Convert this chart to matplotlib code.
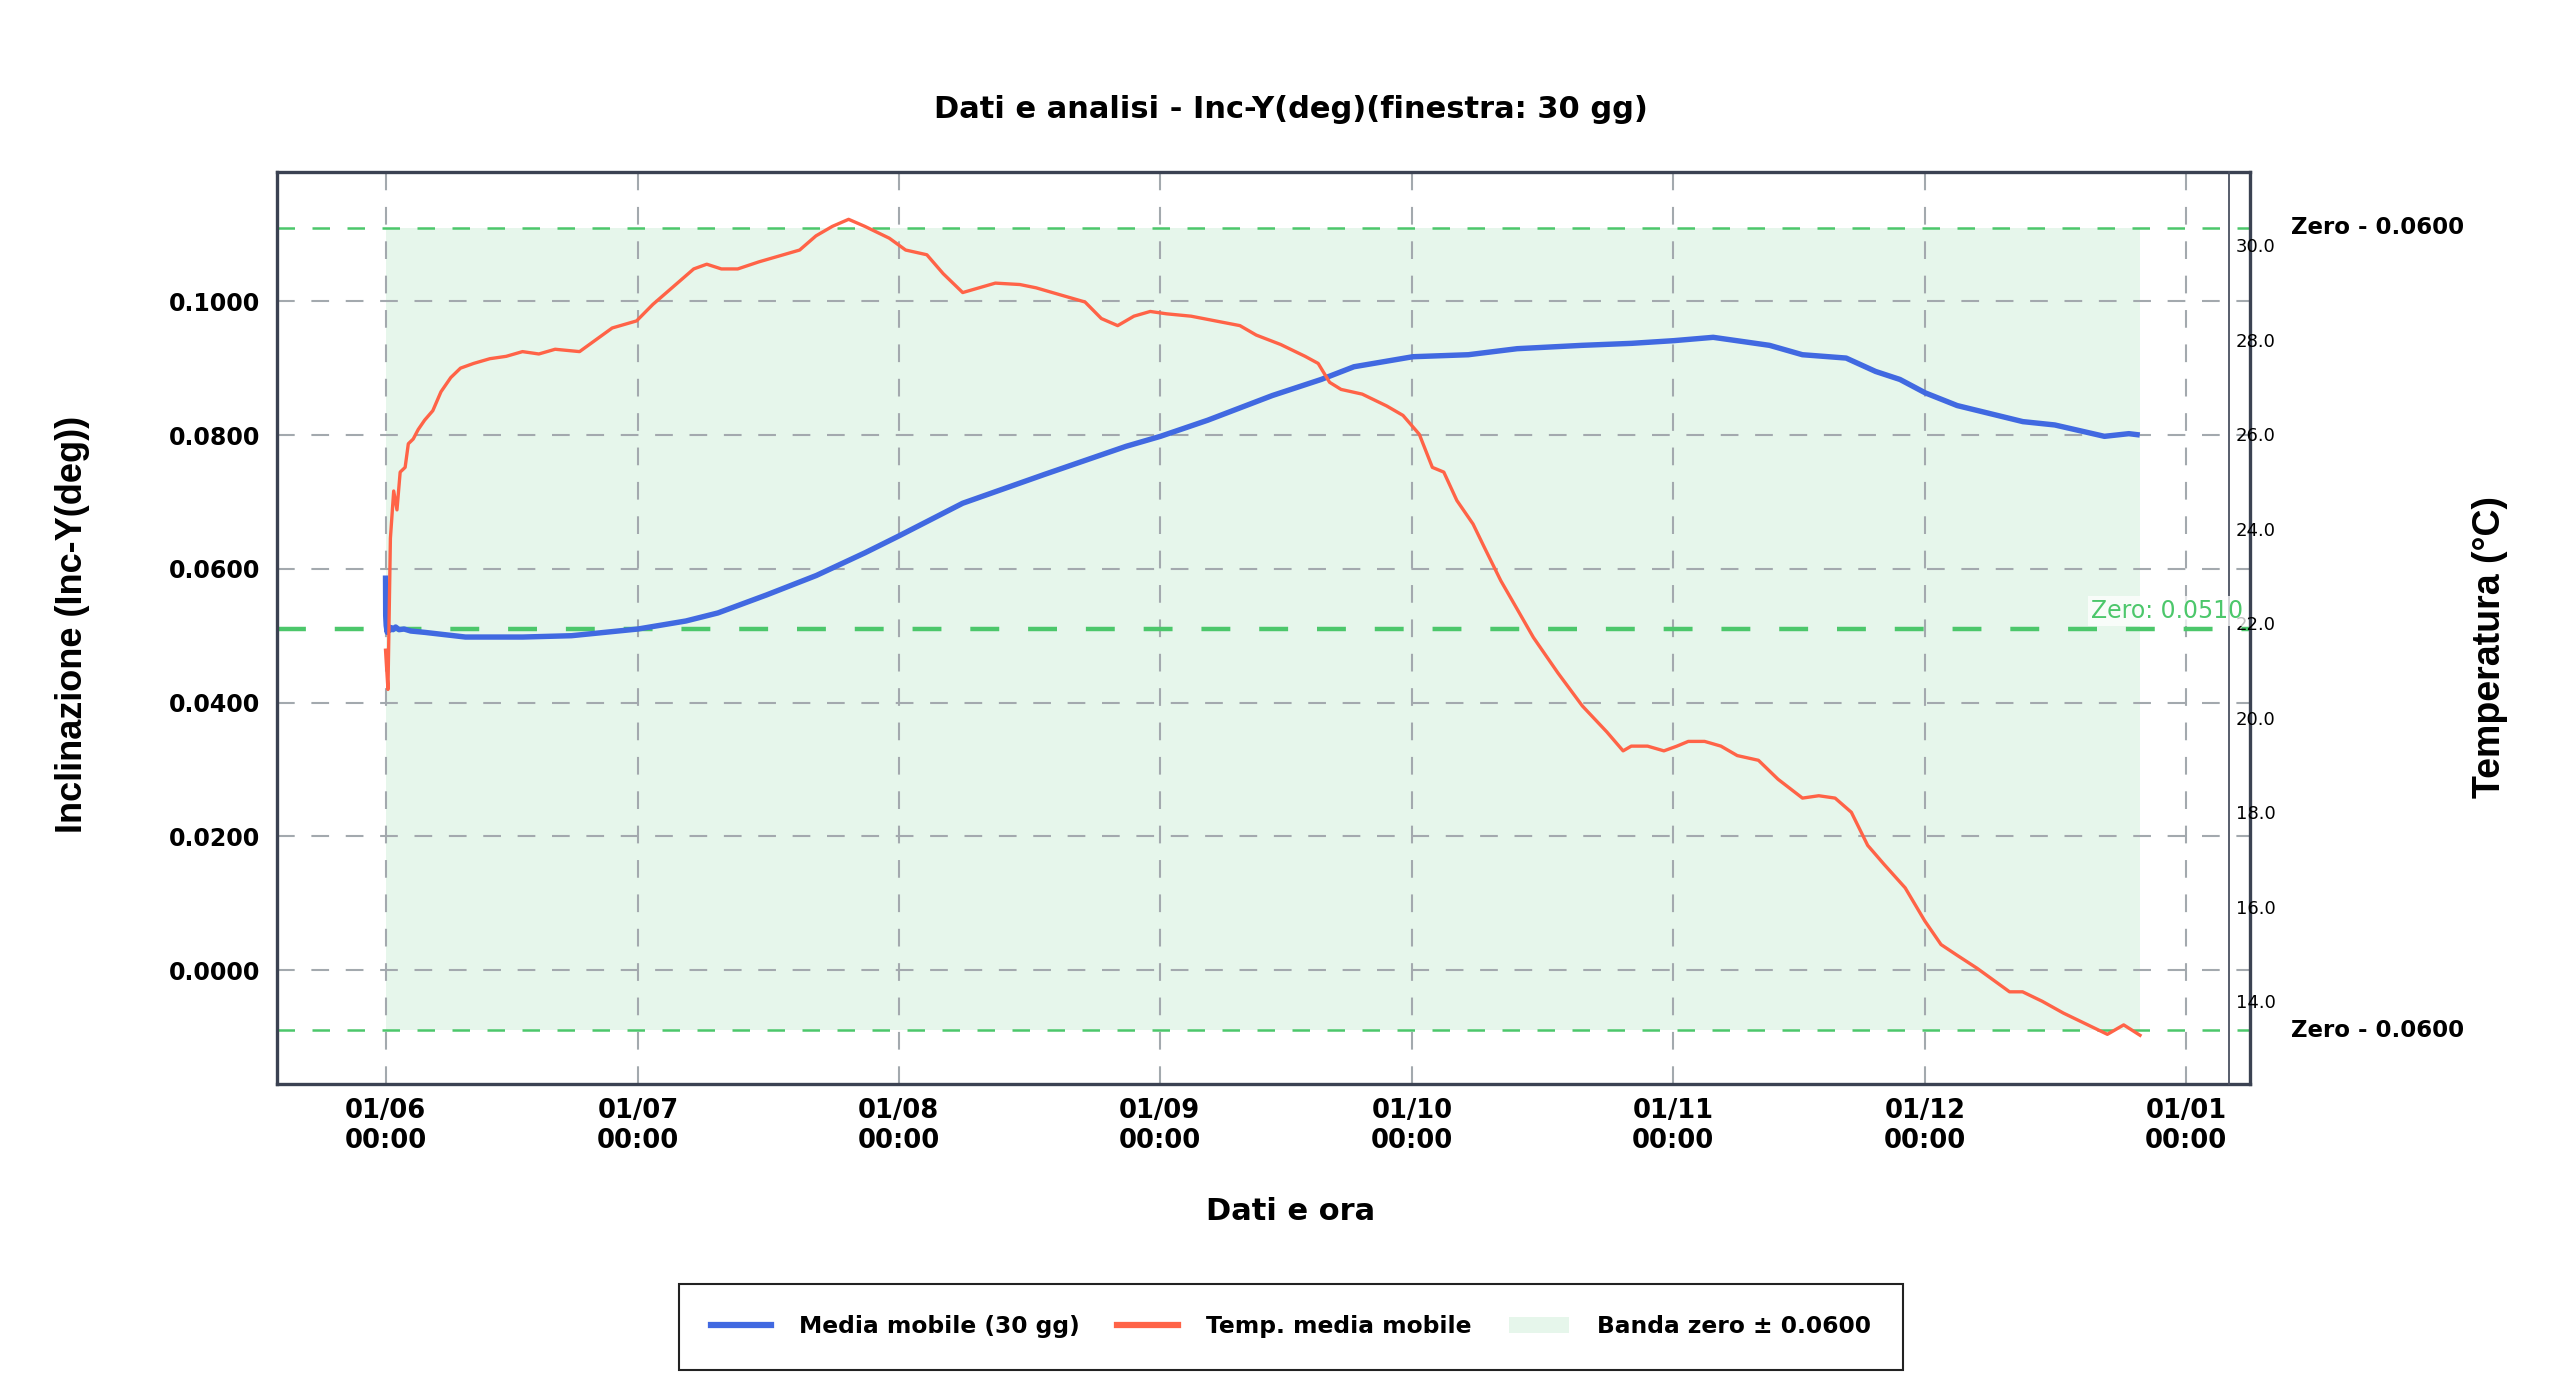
import numpy as np
import pandas as pd
import matplotlib
matplotlib.use("Agg")
import matplotlib.pyplot as plt
import matplotlib.dates as mdates
import matplotlib.transforms as mtransforms
from matplotlib.lines import Line2D
from matplotlib.patches import Patch

plt.rcParams["font.family"] = ["DejaVu Sans"]

start = pd.Timestamp("2024-06-01")

# moving average of Inc-Y (deg), days from start
incl_days = [0, 0.02, 0.08, 0.2, 0.35, 0.5, 0.7, 0.9, 1.2, 1.6, 2.2, 3.0, 4.65, 9.5,
             16.3, 22.1, 30.0, 35.7, 39.5, 45.3, 51.2, 57.0, 61.0, 68.6, 78.3, 88.0,
             92.1, 97.7, 105.4, 111.2, 115.1, 122.1, 128.7, 134.5, 142.2, 148.1, 153.1,
             157.8, 164.5, 168.4, 173.6, 177.1, 180.0, 183.0, 186.8, 190.7, 194.6,
             198.4, 204.3, 207.2, 208.5]
incl_vals = [0.0590, 0.0530, 0.0515, 0.0505, 0.0514, 0.0508, 0.0512, 0.0509, 0.0513,
             0.0509, 0.0510, 0.0507, 0.0505, 0.0498, 0.0498, 0.0500, 0.0510, 0.0522,
             0.0534, 0.0561, 0.0590, 0.0624, 0.0649, 0.0698, 0.0741, 0.0783, 0.0798,
             0.0822, 0.0859, 0.0883, 0.0902, 0.0917, 0.0920, 0.0929, 0.0934, 0.0937,
             0.0941, 0.0946, 0.0934, 0.0920, 0.0915, 0.0895, 0.0883, 0.0863, 0.0844,
             0.0832, 0.0820, 0.0815, 0.0798, 0.0802, 0.0800]

# moving average of temperature (°C)
temp_days = [0, 0.29, 0.58, 0.97, 1.36, 1.74, 2.33, 2.71, 3.29, 3.88, 4.65, 5.62, 6.59,
             7.75, 8.91, 10.47, 12.40, 14.34, 16.28, 18.22, 20.16, 23.06, 25.0, 26.94,
             29.84, 31.78, 34.69, 36.63, 38.18, 39.92, 41.86, 44.38, 47.29, 49.22, 51.16,
             53.10, 55.04, 56.98, 59.88, 61.82, 64.34, 66.28, 68.60, 70.54, 72.48, 75.39,
             77.33, 79.26, 81.20, 83.14, 85.08, 87.02, 88.95, 90.89, 92.83, 95.74, 98.64,
             101.55, 103.49, 106.40, 109.30, 110.85, 112.21, 113.57, 116.09, 118.99,
             120.93, 122.87, 124.42, 125.78, 127.33, 129.26, 130.62, 132.56, 134.50,
             136.43, 139.34, 142.25, 145.16, 147.09, 148.06, 150.0, 151.94, 153.49,
             154.84, 156.78, 158.72, 160.66, 163.18, 165.50, 168.41, 170.35, 172.29,
             174.22, 176.16, 178.10, 180.62, 182.95, 184.88, 186.82, 189.15, 191.09,
             193.02, 194.57, 196.9, 199.42, 202.33, 204.65, 206.59, 208.53]
temp_vals = [21.43, 20.6, 23.8, 24.8, 24.4, 25.2, 25.3, 25.8, 25.9, 26.1, 26.3, 26.5, 26.9,
             27.2, 27.4, 27.5, 27.6, 27.65, 27.75, 27.7, 27.8, 27.75, 28.0, 28.25, 28.4,
             28.75, 29.2, 29.5, 29.6, 29.5, 29.5, 29.65, 29.8, 29.9, 30.2, 30.4, 30.55,
             30.4, 30.15, 29.9, 29.8, 29.4, 29.0, 29.1, 29.2, 29.17, 29.1, 29.0, 28.9,
             28.8, 28.45, 28.3, 28.5, 28.6, 28.55, 28.5, 28.4, 28.3, 28.1, 27.9, 27.65,
             27.5, 27.1, 26.95, 26.85, 26.6, 26.4, 26.0, 25.3, 25.2, 24.6, 24.1, 23.6,
             22.9, 22.3, 21.7, 20.95, 20.25, 19.7, 19.3, 19.4, 19.4, 19.3, 19.4, 19.5,
             19.5, 19.4, 19.2, 19.1, 18.7, 18.3, 18.35, 18.3, 18.0, 17.3, 16.9, 16.4,
             15.7, 15.2, 14.97, 14.7, 14.45, 14.2, 14.2, 14.0, 13.75, 13.5, 13.3, 13.5,
             13.28]

zero = 0.0510
band = 0.0600

blue = "#4169E1"
red = "#FF6347"
green = "#4CC76B"
band_fill = "#E6F6EB"
spine_col = "#3b4252"
grid_col = "#a3a9ae"

t_incl = start + pd.to_timedelta(incl_days, unit="D")
t_temp = start + pd.to_timedelta(temp_days, unit="D")

fig = plt.figure(figsize=(25.6, 13.99), dpi=100)
ax = fig.add_axes([0.1082, 0.2252, 0.7707, 0.6518])

ax.fill_between(t_incl, zero - band, zero + band, color=band_fill, zorder=0.5, linewidth=0)
ax.plot(t_incl, incl_vals, color=blue, lw=3.9, zorder=3, solid_capstyle="butt")
ax.axhline(zero, color=green, lw=3.2, dashes=(6.5, 6.5), zorder=2.5)
ax.axhline(zero + band, color=green, lw=1.8, dashes=(7, 7), zorder=2.5)
ax.axhline(zero - band, color=green, lw=1.8, dashes=(7, 7), zorder=2.5)

ax.set_ylim(-0.0170, 0.1193)
ax.set_xlim(start - pd.Timedelta(days=12.9), start + pd.Timedelta(days=221.6))
ax.set_yticks([0.0, 0.02, 0.04, 0.06, 0.08, 0.10])
ax.yaxis.set_major_formatter(matplotlib.ticker.FormatStrFormatter("%.4f"))
ax.xaxis.set_major_locator(mdates.MonthLocator())
ax.xaxis.set_major_formatter(mdates.DateFormatter("%d/%m\n%H:%M"))
ax.grid(True, color=grid_col, lw=1.5, dashes=(8.5, 8))
ax.set_axisbelow("line")
ax.tick_params(axis="y", length=0, labelsize=17, pad=12)
ax.tick_params(axis="x", length=0, labelsize=18.5, pad=10)
for lab in ax.get_xticklabels() + ax.get_yticklabels():
    lab.set_fontweight("bold")
for s in ax.spines.values():
    s.set_color(spine_col)
    s.set_linewidth(2.4)

ax2 = ax.twinx()
ax2.plot(t_temp, temp_vals, color=red, lw=2.4, zorder=3)
ax2.set_ylim(12.25, 31.55)
ax2.set_yticks([14, 16, 18, 20, 22, 24, 26, 28, 30])
ax2.yaxis.set_major_formatter(matplotlib.ticker.FormatStrFormatter("%.1f"))
ax2.tick_params(axis="y", length=0, pad=5, labelsize=13)
for side in ["left", "top", "bottom"]:
    ax2.spines[side].set_visible(False)
ax2.spines["right"].set_position(("axes", 0.9894))
ax2.spines["right"].set_color("#4a5060")
ax2.spines["right"].set_linewidth(1.3)

mix = mtransforms.blended_transform_factory(ax.transAxes, ax.transData)
ax2.text(0.9965, zero + 0.0027, "Zero: 0.0510", transform=mix, ha="right", va="center",
         color=green, fontsize=17, zorder=6,
         bbox=dict(facecolor="white", alpha=0.75, edgecolor="none", pad=2))
for yv in (zero + band, zero - band):
    ax2.text(1.0208, yv, "Zero - 0.0600", transform=mix, ha="left", va="center",
             fontsize=16.5, fontweight="bold", clip_on=False)

fig.text(0.5043, 0.922, "Dati e analisi - Inc-Y(deg)(finestra: 30 gg)", ha="center",
         va="center", fontsize=22, fontweight="bold")
fig.text(0.5043, 0.1337, "Dati e ora", ha="center", va="center", fontsize=22,
         fontweight="bold")
fig.text(0.0285, 0.554, "Inclinazione (Inc-Y(deg))", rotation=90, ha="center",
         va="center", fontsize=26, fontweight="bold", family="Liberation Sans")
fig.text(0.9727, 0.5376, "Temperatura (°C)", rotation=90, ha="center", va="center",
         fontsize=27, fontweight="bold", family="Liberation Sans")

handles = [Line2D([], [], color=blue, lw=4.5),
           Line2D([], [], color=red, lw=4.5),
           Patch(facecolor=band_fill, edgecolor="none")]
labels = ["Media mobile (30 gg)", "Temp. media mobile", "Banda zero ± 0.0600"]
leg = fig.legend(handles, labels, loc="center", bbox_to_anchor=(0.5043, 0.0515), ncol=3,
                 fancybox=False, edgecolor="#222222", framealpha=1,
                 prop=dict(size=16.8, weight="bold"), handlelength=2.6, borderpad=1.35,
                 columnspacing=1.6, handletextpad=1.2)
leg.get_frame().set_linewidth(1.5)

fig.savefig("out.png", dpi=100)
